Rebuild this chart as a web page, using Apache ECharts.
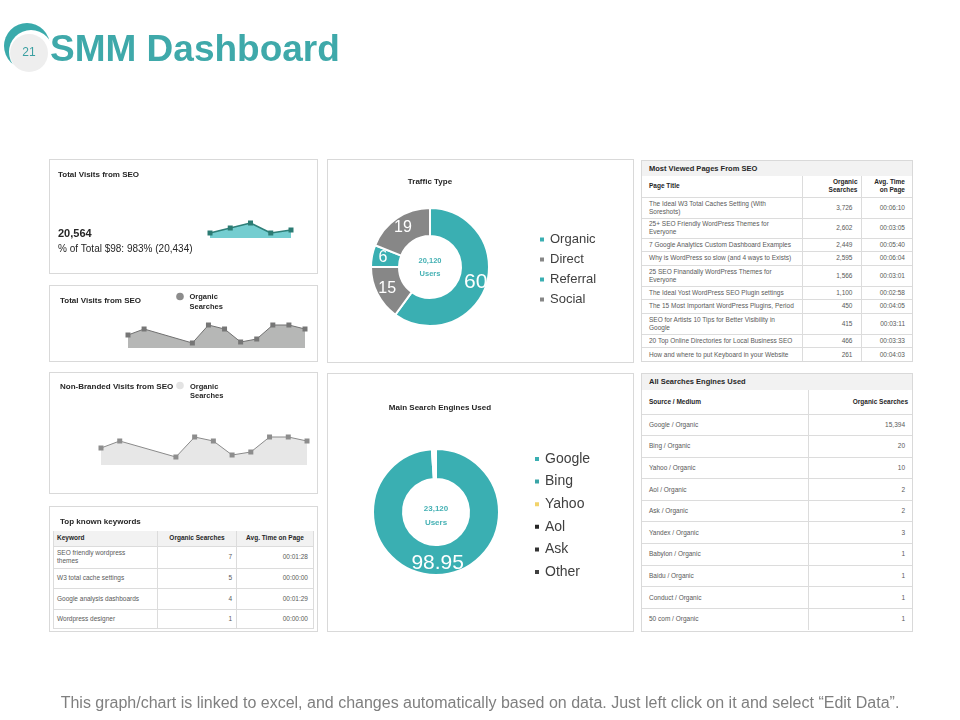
<!DOCTYPE html>
<html><head><meta charset="utf-8">
<script src="https://cdn.jsdelivr.net/npm/echarts@6/dist/echarts.min.js"></script>
<style>
html,body{margin:0;padding:0;background:#fff;}
#wrap{position:relative;width:960px;height:720px;overflow:hidden;font-family:"Liberation Sans",Arial,sans-serif;}
.panel{position:absolute;border:1px solid #d9d9d9;box-sizing:border-box;background:#fff;z-index:1;}
#chart{position:absolute;left:0;top:0;width:960px;height:720px;z-index:2;}
table{border-collapse:collapse;table-layout:fixed;font-family:"Liberation Sans",Arial,sans-serif;}
td{font-size:6.5px;line-height:8px;color:#595959;padding:0;vertical-align:middle;white-space:pre-line;overflow:hidden;}
td.h{font-weight:bold;color:#262626;}
.ttl{font-weight:bold;font-size:7.5px;color:#262626;background:#f2f2f2;}
#footer{position:absolute;left:0;top:694px;width:960px;text-align:center;font-family:"Liberation Sans Narrow","Liberation Sans",Arial,sans-serif;font-size:16px;color:#7f7f7f;z-index:3;}
</style></head>
<body><div id="wrap">
<div class="panel" style="left:49px;top:159px;width:269px;height:115px;"></div>
<div class="panel" style="left:49px;top:285px;width:269px;height:77px;"></div>
<div class="panel" style="left:49px;top:372px;width:269px;height:122px;"></div>
<div class="panel" style="left:49px;top:506px;width:269px;height:126px;"></div>
<div class="panel" style="left:327px;top:159px;width:307px;height:204px;"></div>
<div class="panel" style="left:327px;top:373px;width:307px;height:259px;"></div>
<div class="panel" id="t1" style="left:641px;top:160px;width:272px;height:202px;"></div>
<div class="panel" id="t2" style="left:641px;top:373px;width:272px;height:259px;"></div>
<div id="kw" style="position:absolute;left:53px;top:531px;width:260px;z-index:1;"></div>
<div id="chart"></div>
<div id="footer">This graph/chart is linked to excel, and changes automatically based on data. Just left click on it and select “Edit Data”.</div>
</div>
<script>
// ---------- DATA ----------
const seoDays = ['1','2','3','4','5'];
const seoVisits = [5, 10, 15, 5, 8];
const organicDays = ['1','2','3','4','5','6','7','8','9','10','11','12'];
const organicVisits = [13, 19, null, null, 5, 23, 19, 6, 9, 23, 23, 19];
const nonBrandedVisits = [17, 24, null, null, 8, 28, 24, 10, 13, 28, 28, 24];

const trafficNames = ['Organic', 'Direct', 'Referral', 'Social'];
const trafficValues = [60, 15, 6, 19];
const engineNames = ['Google', 'Bing', 'Yahoo', 'Aol', 'Ask', 'Other'];
const engineValues = [98.95, 0.5, 0.25, 0.1, 0.1, 0.1];

const keywords = ['SEO friendly wordpress\nthemes', 'W3 total cache settings', 'Google analysis dashboards', 'Wordpress designer'];
const keywordSearches = [7, 5, 4, 1];
const keywordTimes = ['00:01:28', '00:00:00', '00:01:29', '00:00:00'];

const pageTitles = [
  'The Ideal W3 Total Caches Setting (With\nSoreshots)',
  '25+ SEO Friendly WordPress Themes for\nEveryone',
  '7 Google Analytics Custom Dashboard Examples',
  'Why is WordPress so slow (and 4 ways to Exists)',
  '25 SEO Finandally WordPress Themes for\nEveryone',
  'The Ideal Yost WordPress SEO Plugin settings',
  'The 15 Most Important WordPress Plugins, Period',
  'SEO for Artists 10 Tips for Better Visibility in\nGoogle',
  '20 Top Online Directories for Local Business SEO',
  'How and where to put Keyboard in your Website'
];
const pageSearches = [3726, 2602, 2449, 2595, 1566, 1100, 450, 415, 466, 261];
const pageTimes = ['00:06:10','00:03:05','00:05:40','00:06:04','00:03:01','00:02:58','00:04:05','00:03:11','00:03:33','00:04:03'];

const sources = ['Google / Organic','Bing / Organic','Yahoo / Organic','Aol / Organic','Ask / Organic','Yandex / Organic','Babylon / Organic','Baidu / Organic','Conduct / Organic','50 com / Organic'];
const sourceSearches = [15394, 20, 10, 2, 2, 3, 1, 1, 1, 1];

// ---------- TABLES ----------
const B = '1px solid #dcdcdc';
const fmt = n => n.toLocaleString('en-US');

(function(){
  let h = '<table style="width:260px;border-left:' + B + ';border-right:' + B + ';">';
  h += '<colgroup><col style="width:104px"><col style="width:79px"><col style="width:77px"></colgroup>';
  h += '<tr style="height:15px;background:#f2f2f2;"><td class="h" style="padding-left:3px;">Keyword</td>' +
       '<td class="h" style="text-align:center;border-left:' + B + ';">Organic Searches</td>' +
       '<td class="h" style="text-align:center;border-left:' + B + ';">Avg. Time on Page</td></tr>';
  const rh = [22, 20, 21, 19];
  keywords.forEach((k, i) => {
    h += '<tr style="height:' + rh[i] + 'px;border-top:' + B + ';border-bottom:' + B + ';"><td style="padding-left:3px;">' + k + '</td>' +
         '<td style="text-align:right;padding-right:4px;border-left:' + B + ';">' + keywordSearches[i] + '</td>' +
         '<td style="text-align:right;padding-right:5px;border-left:' + B + ';">' + keywordTimes[i] + '</td></tr>';
  });
  h += '</table>';
  document.getElementById('kw').innerHTML = h;
})();

(function(){
  let h = '<div class="ttl" style="height:15px;line-height:15px;padding-left:7px;">Most Viewed Pages From SEO</div>';
  h += '<table style="width:270px;">';
  h += '<colgroup><col style="width:160px"><col style="width:59px"><col style="width:51px"></colgroup>';
  h += '<tr style="height:21px;"><td class="h" style="padding-left:7px;">Page Title</td>' +
       '<td class="h" style="text-align:right;padding-right:3px;border-left:' + B + ';">Organic\nSearches</td>' +
       '<td class="h" style="text-align:right;padding-right:7px;border-left:' + B + ';">Avg. Time\non Page</td></tr>';
  const rh = [21, 20, 13.5, 13.5, 21, 13.5, 13.5, 21, 13.5, 13.5];
  pageTitles.forEach((t, i) => {
    h += '<tr style="height:' + rh[i] + 'px;border-top:' + B + ';"><td style="padding-left:7px;">' + t + '</td>' +
         '<td style="text-align:right;padding-right:8px;border-left:' + B + ';">' + fmt(pageSearches[i]) + '</td>' +
         '<td style="text-align:right;padding-right:7px;border-left:' + B + ';">' + pageTimes[i] + '</td></tr>';
  });
  h += '</table>';
  document.getElementById('t1').innerHTML = h;
})();

(function(){
  let h = '<div class="ttl" style="height:16px;line-height:16px;padding-left:7px;">All Searches Engines Used</div>';
  h += '<table style="width:270px;">';
  h += '<colgroup><col style="width:166px"><col style="width:104px"></colgroup>';
  h += '<tr style="height:24px;"><td class="h" style="padding-left:7px;">Source / Medium</td>' +
       '<td class="h" style="text-align:right;padding-right:4px;border-left:' + B + ';">Organic Searches</td></tr>';
  sources.forEach((s, i) => {
    h += '<tr style="height:21.6px;border-top:' + B + ';"><td style="padding-left:7px;">' + s + '</td>' +
         '<td style="text-align:right;padding-right:7px;border-left:' + B + ';">' + fmt(sourceSearches[i]) + '</td></tr>';
  });
  h += '</table>';
  document.getElementById('t2').innerHTML = h;
})();

// ---------- CHART ----------
const F = '"Liberation Sans", Arial, sans-serif';
const TEAL = '#3aafb2';
const GRAY = '#878787';
const chart = echarts.init(document.getElementById('chart'), null, {renderer: 'canvas'});

function txt(x, y, text, font, fill, align) {
  return {type: 'text', x: x, y: y, silent: true,
    style: {text: text, font: font + ' ' + F, fill: fill || '#262626', align: align || 'left', verticalAlign: 'middle'}};
}

const trafficColors = [TEAL, GRAY, TEAL, GRAY];
const engineColors = [TEAL, '#3aa5a7', '#f2d36b', '#262626', '#333333', '#404040'];

const option = {
  animation: false,
  backgroundColor: 'transparent',
  graphic: [
    {type: 'circle', silent: true, shape: {cx: 27, cy: 46, r: 23}, style: {fill: '#3aaaab'}},
    {type: 'circle', silent: true, shape: {cx: 31, cy: 52, r: 22}, style: {fill: '#fff'}},
    {type: 'circle', silent: true, shape: {cx: 29, cy: 53, r: 19}, style: {fill: '#eeeeee'}},
    txt(29, 53, '21', '12px', '#3a9fa1', 'center'),
    txt(50, 51, 'SMM Dashboard', 'bold 37px', '#3fa9aa'),
    // panel 1
    txt(58, 175, 'Total Visits from SEO', 'bold 8px'),
    txt(58, 234, '20,564', 'bold 11px'),
    txt(58, 249, '% of Total $98: 983% (20,434)', '10px', '#262626'),
    // panel 2
    txt(60, 301, 'Total Visits from SEO', 'bold 8px'),
    {type: 'circle', silent: true, shape: {cx: 180, cy: 296.5, r: 3.8}, style: {fill: '#8c8c8c'}},
    txt(189.5, 297, 'Organic', 'bold 7.5px'),
    txt(189.5, 306.5, 'Searches', 'bold 7.5px'),
    // panel 3
    txt(60, 387, 'Non-Branded Visits from SEO', 'bold 8px'),
    {type: 'circle', silent: true, shape: {cx: 180, cy: 385.5, r: 3.8}, style: {fill: '#e3e3e3'}},
    txt(190, 387, 'Organic', 'bold 7.5px'),
    txt(190, 396, 'Searches', 'bold 7.5px'),
    // panel 4
    txt(60, 522, 'Top known keywords', 'bold 8px'),
    // donut 1
    txt(430, 182, 'Traffic Type', 'bold 8px', '#262626', 'center'),
    txt(430, 261, '20,120', 'bold 7.5px', '#45b1b4', 'center'),
    txt(430, 274, 'Users', 'bold 7.5px', '#45b1b4', 'center'),
    // donut 2
    txt(440, 408, 'Main Search Engines Used', 'bold 8px', '#262626', 'center'),
    txt(436, 509, '23,120', 'bold 8px', '#45b1b4', 'center'),
    txt(436, 523, 'Users', 'bold 8px', '#45b1b4', 'center')
  ],
  legend: [
    {data: trafficNames, orient: 'vertical', left: 538, top: 233, padding: 0, icon: 'rect', itemWidth: 6, itemHeight: 6,
     itemGap: 7, selectedMode: false, textStyle: {fontSize: 13, color: '#404040', fontFamily: F}},
    {data: engineNames, orient: 'vertical', left: 533, top: 452, padding: 0, icon: 'rect', itemWidth: 6, itemHeight: 6,
     itemGap: 8.6, selectedMode: false, textStyle: {fontSize: 14, color: '#404040', fontFamily: F}}
  ],
  grid: [
    {left: 210, top: 218, width: 81, height: 20},
    {left: 128, top: 318, width: 177, height: 30},
    {left: 101, top: 435, width: 206, height: 30}
  ],
  xAxis: [
    {gridIndex: 0, type: 'category', data: seoDays, boundaryGap: false, show: false},
    {gridIndex: 1, type: 'category', data: organicDays, boundaryGap: false, show: false},
    {gridIndex: 2, type: 'category', data: organicDays, boundaryGap: false, show: false}
  ],
  yAxis: [
    {gridIndex: 0, type: 'value', min: 0, max: 20, show: false},
    {gridIndex: 1, type: 'value', min: 0, max: 30, show: false},
    {gridIndex: 2, type: 'value', min: 0, max: 30, show: false}
  ],
  series: [
    {type: 'line', xAxisIndex: 0, yAxisIndex: 0, data: seoVisits, silent: true,
     symbol: 'rect', symbolSize: 5, lineStyle: {color: '#2e7f79', width: 1.5},
     itemStyle: {color: '#2b7b73'}, areaStyle: {color: '#74cdd0', opacity: 1}},
    {type: 'line', xAxisIndex: 1, yAxisIndex: 1, data: organicVisits, connectNulls: true, silent: true,
     symbol: 'rect', symbolSize: 5, lineStyle: {color: '#707070', width: 1},
     itemStyle: {color: '#767676'}, areaStyle: {color: '#b6b7b6', opacity: 1}},
    {type: 'line', xAxisIndex: 2, yAxisIndex: 2, data: nonBrandedVisits, connectNulls: true, silent: true,
     symbol: 'rect', symbolSize: 5, lineStyle: {color: '#8a8a8a', width: 1},
     itemStyle: {color: '#8d8d8d'}, areaStyle: {color: '#e7e7e7', opacity: 1}},
    {type: 'pie', name: 'Traffic Type', center: [430, 267], radius: [31, 59], startAngle: 90, clockwise: true,
     silent: true, itemStyle: {borderColor: '#fff', borderWidth: 2},
     label: {show: true, position: 'inside', formatter: '{c}', color: '#fff', fontSize: 16, fontFamily: F},
     labelLine: {show: false},
     data: trafficNames.map((n, i) => ({name: n, value: trafficValues[i], itemStyle: {color: trafficColors[i]},
       label: {fontSize: i === 0 ? 21 : 16}}))},
    {type: 'pie', name: 'Search Engines', center: [436, 512], radius: [33, 63], startAngle: 90, clockwise: true,
     silent: true, itemStyle: {borderColor: '#fff', borderWidth: 2},
     label: {show: true, position: 'inside', formatter: '{c}', color: '#fff', fontSize: 21, fontFamily: F},
     labelLine: {show: false},
     data: engineNames.map((n, i) => ({name: n, value: engineValues[i], itemStyle: {color: engineColors[i]},
       label: {show: i === 0}}))}
  ]
};
chart.setOption(option);
</script>
</body></html>
